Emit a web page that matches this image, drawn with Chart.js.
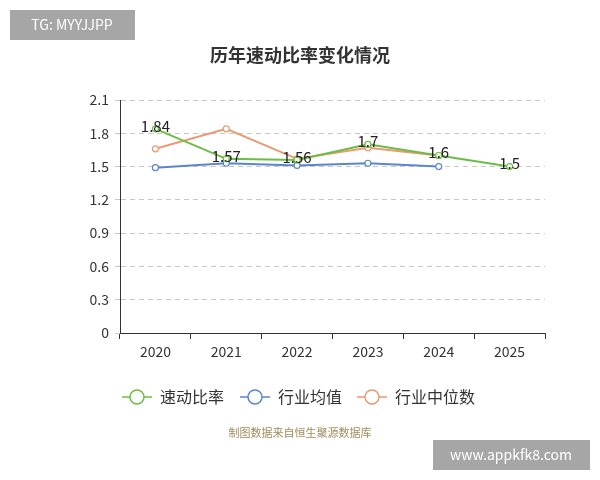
<!DOCTYPE html>
<html>
<head>
<meta charset="utf-8">
<script src="https://cdn.jsdelivr.net/npm/chart.js@4"></script>
<style>
  body { margin: 0; background: #fff; }
  #wrap { width: 600px; height: 480px; position: relative; }
</style>
</head>
<body>
<div id="wrap"><canvas id="c" width="600" height="480"></canvas></div>
<script>
const years = ['2020', '2021', '2022', '2023', '2024', '2025'];
const quickRatio = [1.84, 1.57, 1.56, 1.7, 1.6, 1.5];
const industryMean = [1.49, 1.53, 1.51, 1.53, 1.50, null];
const industryMedian = [1.66, 1.84, 1.57, 1.67, 1.60, null];
const seriesNames = ['速动比率', '行业均值', '行业中位数'];
const colors = ['#6cbd45', '#5b85cf', '#e99a73'];
const font = '"Noto Sans CJK SC", "Noto Sans", sans-serif';

// title, labels, legend, watermarks
const decor = {
    id: 'decor',
    afterDraw(chart) {
        const ctx = chart.ctx;
        ctx.save();
        ctx.fillStyle = '#333';
        ctx.font = 'bold 18px ' + font;
        ctx.textAlign = 'center';
        ctx.textBaseline = 'middle';
        ctx.fillText('历年速动比率变化情况', 300, 55);

        // value labels for main series
        const meta = chart.getDatasetMeta(0);
        ctx.font = '15px ' + font;
        ctx.fillStyle = '#222';
        meta.data.forEach((p, i) => {
            ctx.fillText(String(quickRatio[i]), p.x, p.y - 3);
        });

        // legend
        const lx = [122, 240, 357];
        lx.forEach((x, i) => {
            ctx.strokeStyle = colors[i];
            ctx.lineWidth = 1.5;
            ctx.beginPath();
            ctx.moveTo(x, 397); ctx.lineTo(x + 30, 397); ctx.stroke();
            ctx.beginPath();
            ctx.arc(x + 15, 397, 7, 0, Math.PI * 2);
            ctx.fillStyle = '#fff'; ctx.fill(); ctx.stroke();
            ctx.fillStyle = '#333';
            ctx.textAlign = 'left';
            ctx.font = '16px ' + font;
            ctx.fillText(seriesNames[i], x + 38, 397);
        });

        ctx.textAlign = 'center';
        ctx.font = '11px ' + font;
        ctx.fillStyle = '#a08b5c';
        ctx.fillText('制图数据来自恒生聚源数据库', 300, 433);

        ctx.fillStyle = '#a6a6a6';
        ctx.fillRect(10, 10, 125, 30);
        ctx.fillRect(433, 440, 157, 30);
        ctx.fillStyle = '#fff';
        ctx.font = '14px ' + font;
        ctx.fillText('TG: MYYJJPP', 72, 25);
        ctx.fillText('www.appkfk8.com', 511, 455);
        ctx.restore();
    }
};

const ds = (label, data, color) => ({
    label, data,
    borderColor: color,
    backgroundColor: '#fff',
    borderWidth: 2,
    pointRadius: 3,
    pointBorderWidth: 1.2,
    pointBackgroundColor: '#fff',
    tension: 0,
});

new Chart(document.getElementById('c').getContext('2d'), {
    type: 'line',
    data: {
        labels: years,
        datasets: [
            ds(seriesNames[0], quickRatio, colors[0]),
            ds(seriesNames[1], industryMean, colors[1]),
            ds(seriesNames[2], industryMedian, colors[2]),
        ],
    },
    options: {
        responsive: false,
        animation: false,
        layout: { padding: { top: 100, right: 55, left: 0, bottom: 0 } },
        plugins: { legend: { display: false }, tooltip: { enabled: false } },
        scales: {
            x: {
                offset: true,
                afterFit(s) { s.height = 147; },
                grid: { display: true, offset: true, drawOnChartArea: false, drawTicks: true, tickLength: 6, color: '#333' },
                border: { color: '#333' },
                ticks: { color: '#333', font: { size: 14, family: font }, padding: 4 },
            },
            y: {
                min: 0, max: 2.1,
                afterFit(s) { s.width = 120; },
                afterBuildTicks(s) {
                    s.ticks = [0, 0.3, 0.6, 0.9, 1.2, 1.5, 1.8, 2.1].map(v => ({ value: v }));
                },
                grid: { color: '#c8c8c8', drawTicks: true, tickLength: 5 },
                border: { color: '#333', dash: [5, 4] },
                ticks: {
                    color: '#333', font: { size: 14, family: font }, padding: 6,
                    callback: v => String(v),
                },
            },
        },
    },
    plugins: [decor],
});
</script>
</body>
</html>
